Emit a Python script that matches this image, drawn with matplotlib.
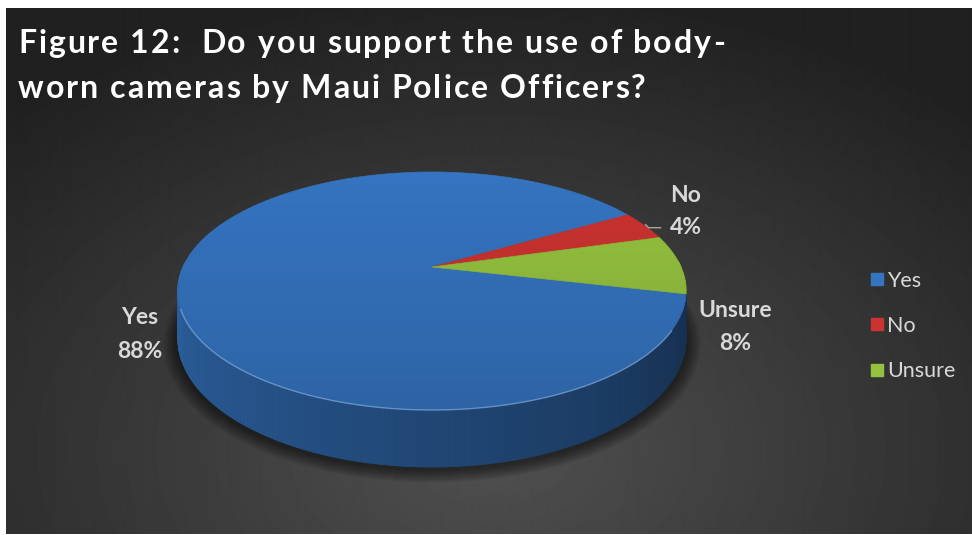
import numpy as np
import matplotlib.pyplot as plt
from matplotlib.collections import PolyCollection
from matplotlib.patches import Polygon
from matplotlib.lines import Line2D
from matplotlib.colors import to_rgb

# survey answers
labels = ['Yes', 'No', 'Unsure']
shares = [88, 4, 8]
colors = ['#3574c0', '#cb3330', '#94c23f']
title_lines = ['Figure 12:  Do you support the use of body-',
               'worn cameras by Maui Police Officers?']

W, H = 972, 535
fig = plt.figure(figsize=(W / 100, H / 100), dpi=100, facecolor='white')
ax = fig.add_axes([0, 0, 1, 1])
ax.set_xlim(0, W)
ax.set_ylim(H, 0)
ax.axis('off')

# dark panel with a soft radial glow low in the middle
yy, xx = np.mgrid[8:534, 6:972]
r = np.sqrt(((xx - 490) / 720.0) ** 2 + ((yy - 450) / 470.0) ** 2)
glow = 0.125 + 0.19 * np.clip(1 - r, 0, 1) ** 1.0
ax.imshow(glow, cmap='gray', vmin=0, vmax=1, extent=(6, 972, 534, 8),
          interpolation='bilinear', zorder=0)

# 3d pie projection (perspective tilt)
cx, cy = 432, 267
A, B, K, D = 249, 114, 0.2, 46


def project(phi, z=0.0, rad=1.0):
    t = np.radians(phi)
    u, v = rad * np.cos(t), rad * np.sin(t)
    w = 1 + K * v
    return cx + A * u / w, cy + (-B * v + D * z) / w


# slices run clockwise starting at 347 deg
angles = []
a0 = 347.0
for s in shares:
    a1 = a0 - 360.0 * s / sum(shares)
    angles.append((a1, a0))
    a0 = a1

# soft shadow under the pie
phis = np.linspace(0, 360, 361)
bx, by = project(phis, 1.0)
for grow in np.linspace(14, 1, 10):
    sx = cx + (bx - cx) * (1 + grow / 250)
    sy = cy + 22 + (by - cy - 22) * (1 + grow / 200) + 3
    ax.add_patch(Polygon(np.c_[sx, sy], closed=True, fc='black', ec='none',
                         alpha=0.06, zorder=1))

# side wall: quads in the visible front half, far ones first
quads, qcols, depth = [], [], []
for (lo, hi), col in zip(angles, colors):
    base = np.array(to_rgb(col))
    for p in np.arange(lo, hi, 1.0):
        p2 = min(p + 1.0, hi)
        pm = (p + p2) / 2 % 360
        if np.sin(np.radians(pm)) > 0.05:
            continue
        x1, y1 = project(p)
        x2, y2 = project(p2)
        x3, y3 = project(p2, 1.0)
        x4, y4 = project(p, 1.0)
        quads.append([(x1, y1), (x2, y2), (x3, y3), (x4, y4)])
        f = 0.82 - 0.42 * np.clip((pm - 192) / 156.0, 0, 1)
        qcols.append(tuple(base * f))
        depth.append(-np.sin(np.radians(pm)))
order = np.argsort(depth)
pc = PolyCollection([quads[i] for i in order], facecolors=[qcols[i] for i in order],
                    edgecolors=[qcols[i] for i in order], linewidths=0.6, zorder=2)
ax.add_collection(pc)

# top face wedges
for (lo, hi), col in zip(angles, colors):
    ph = np.linspace(lo, hi, max(int(hi - lo) * 2, 4))
    tx, ty = project(ph)
    pts = np.r_[[[cx, cy]], np.c_[tx, ty]]
    ax.add_patch(Polygon(pts, closed=True, fc=col, ec=col, lw=0.5, zorder=3))

# slight darkening toward the front of the top face
ox, oy = project(phis)
outline = Polygon(np.c_[ox, oy], closed=True, fc='none', ec='none')
ax.add_patch(outline)
shade = np.linspace(0, 1, 200)[:, None] * np.ones((1, 10))
rgba = np.zeros((200, 10, 4))
rgba[..., 3] = 0.14 * shade
im = ax.imshow(rgba, extent=(cx - 260, cx + 260, 412, 170), zorder=4,
               interpolation='bilinear')
im.set_clip_path(outline)

# bevel highlight on the front rim
hx, hy = project(np.linspace(200, 330, 120))
ax.plot(hx, hy + 0.5, color='#7fa9dd', lw=1.0, alpha=0.7, zorder=5)

# data labels
lab_col = '#d9d9d9'
lab_font = dict(family='Lato', weight='bold', fontsize=16.5, color=lab_col,
                ha='center', va='baseline', zorder=6)
label_xy = [(140, 324, 358), (686, 202, 234), (735, 317, 350)]
for name, s, (lx, ly1, ly2) in zip(labels, shares, label_xy):
    ax.text(lx, ly1, name, **lab_font)
    ax.text(lx, ly2, f'{s}%', **lab_font)

# leader line for the small slice
mid_no = np.mean(angles[1])
sx0, sy0 = project(mid_no)
ax.plot([sx0 + 1, sx0 + 4, sx0 + 16], [sy0 - 1, sy0 + 2, sy0 + 2],
        color='#a6a6a6', lw=1.0, zorder=6)

# legend
handles = [Line2D([], [], marker='s', ls='', ms=8.5, mfc=c, mec=c) for c in colors]
leg = ax.legend(handles, labels, loc='upper left',
                bbox_to_anchor=(860 / W, 1 - 260 / H), frameon=False,
                prop=dict(family='Lato', size=15.5), labelcolor=lab_col,
                handlelength=0.55, handletextpad=0.2, labelspacing=1.17,
                borderpad=0)

# title, drawn letter by letter to get the wide tracking
renderer = fig.canvas.get_renderer()
tfont = dict(family='Lato', weight='bold', fontsize=23, color='white',
             va='baseline', zorder=7)


def char_width(ch):
    if ch == ' ':
        a = ax.text(0, 0, 'a a', **tfont)
        b = ax.text(0, 0, 'aa', **tfont)
        w = a.get_window_extent(renderer).width - b.get_window_extent(renderer).width
        a.remove()
        b.remove()
        return w
    t = ax.text(0, 0, ch, **tfont)
    w = t.get_window_extent(renderer).width
    t.remove()
    return w


widths0 = [char_width(c) for c in title_lines[0]]
track = (725 - 18 - sum(widths0)) / (len(title_lines[0]) - 1)
for line, base_y in zip(title_lines, [53, 98]):
    x = 18
    for ch in line:
        ax.text(x, base_y, ch, **tfont)
        x += char_width(ch) + track

fig.savefig('out.png', dpi=100, facecolor='white')
